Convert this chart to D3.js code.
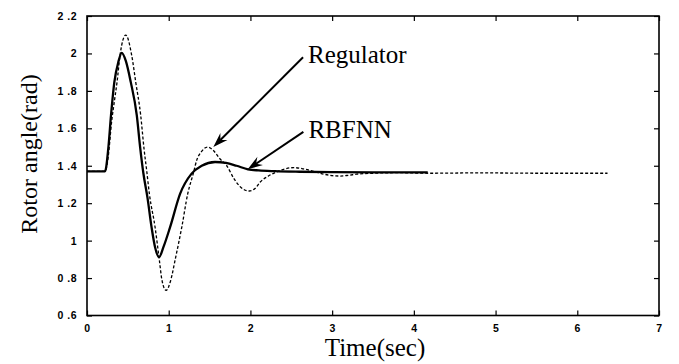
<!DOCTYPE html>
<html>
<head>
<meta charset="utf-8">
<script src="https://cdn.jsdelivr.net/npm/d3@7/dist/d3.min.js"></script>
<style>
  html, body { margin: 0; padding: 0; background: #fff; }
  svg { display: block; }
  .tick text { font-family: "Liberation Sans", Arial, sans-serif; font-weight: bold; font-size: 10.5px; letter-spacing: 0.5px; fill: #000; }
  .tick line { stroke: #000; stroke-width: 1.2; }
  .domain { display: none; }
  .title { font-family: "Liberation Serif", "Times New Roman", serif; fill: #000; }
</style>
</head>
<body>
<svg id="chart" width="679" height="364"></svg>
<script>
// Rotor angle response after a disturbance: regulator vs RBFNN controller
const xTicks = [0, 1, 2, 3, 4, 5, 6, 7];
const yTicks = [0.6, 0.8, 1.0, 1.2, 1.4, 1.6, 1.8, 2.0, 2.2];

const rbfTime  = [0, 0.22, 0.26, 0.294, 0.335, 0.384, 0.425, 0.475, 0.535, 0.609, 0.65, 0.69, 0.74, 0.79, 0.833, 0.882, 0.935, 1.017, 1.14, 1.28, 1.404, 1.567, 1.70, 1.83, 1.97, 2.1, 2.3, 2.6, 3.0, 3.5, 4.17];
const rbfAngle = [1.37, 1.37, 1.49, 1.67, 1.848, 1.955, 2.003, 1.96, 1.848, 1.67, 1.50, 1.36, 1.23, 1.072, 0.965, 0.912, 0.965, 1.072, 1.251, 1.358, 1.40, 1.42, 1.415, 1.40, 1.381, 1.375, 1.371, 1.368, 1.366, 1.365, 1.365];

const regTime  = [0, 0.22, 0.26, 0.30, 0.34, 0.368, 0.404, 0.474, 0.547, 0.596, 0.657, 0.698, 0.73, 0.763, 0.833, 0.886, 0.918, 0.968, 1.024, 1.077, 1.16, 1.233, 1.30, 1.343, 1.40, 1.475, 1.55, 1.62, 1.71, 1.80, 1.87, 1.985, 2.06, 2.12, 2.22, 2.32, 2.42, 2.53, 2.65, 2.77, 2.9, 3.0, 3.1, 3.2, 3.3, 3.5, 3.8, 4.2, 4.8, 5.5, 6.37];
const regAngle = [1.37, 1.37, 1.45, 1.63, 1.76, 1.848, 1.99, 2.098, 1.99, 1.848, 1.67, 1.49, 1.376, 1.251, 1.072, 0.894, 0.787, 0.734, 0.787, 0.894, 1.072, 1.251, 1.358, 1.43, 1.475, 1.50, 1.48, 1.44, 1.40, 1.33, 1.29, 1.265, 1.28, 1.313, 1.345, 1.367, 1.383, 1.39, 1.383, 1.37, 1.355, 1.347, 1.345, 1.349, 1.355, 1.36, 1.363, 1.36, 1.362, 1.36, 1.36];

// Annotations: label, arrow tail (t, angle) and arrow tip (t, angle)
const notes = [
  { label: "Regulator", tail: [2.644, 1.98], tip: [1.546, 1.50] },
  { label: "RBFNN",     tail: [2.648, 1.581], tip: [1.967, 1.381] }
];

const svg = d3.select("#chart");
const x = d3.scaleLinear().domain([0, 7]).range([87, 659]);
const y = d3.scaleLinear().domain([0.6, 2.2]).range([315.5, 16]);

const fmt = v => d3.format("~g")(v).replace(".", " .");

// Axes with inward ticks on all four sides
svg.append("g").attr("transform", `translate(0,${y(0.6)})`)
  .call(d3.axisBottom(x).tickValues(xTicks).tickSize(-5).tickSizeOuter(0).tickPadding(9).tickFormat(d3.format("d")));
svg.append("g").attr("transform", `translate(0,${y(2.2)})`)
  .call(d3.axisTop(x).tickValues(xTicks).tickSize(-5).tickSizeOuter(0).tickFormat(""));
svg.append("g").attr("transform", `translate(${x(0)},0)`)
  .call(d3.axisLeft(y).tickValues(yTicks).tickSize(-5).tickSizeOuter(0).tickPadding(10).tickFormat(fmt));
svg.append("g").attr("transform", `translate(${x(7)},0)`)
  .call(d3.axisRight(y).tickValues(yTicks).tickSize(-5).tickSizeOuter(0).tickFormat(""));

// Plot frame
svg.append("rect")
  .attr("x", x(0)).attr("y", y(2.2))
  .attr("width", x(7) - x(0)).attr("height", y(0.6) - y(2.2))
  .attr("fill", "none").attr("stroke", "#000").attr("stroke-width", 1.6);

const line = d3.line().x(d => x(d[0])).y(d => y(d[1])).curve(d3.curveMonotoneX);

svg.append("path")
  .datum(d3.zip(regTime, regAngle))
  .attr("d", line)
  .attr("fill", "none").attr("stroke", "#000")
  .attr("stroke-width", 1.3).attr("stroke-dasharray", "3,2");

svg.append("path")
  .datum(d3.zip(rbfTime, rbfAngle))
  .attr("d", line)
  .attr("fill", "none").attr("stroke", "#000")
  .attr("stroke-width", 2.3).attr("stroke-linejoin", "round");

// Arrow annotations
notes.forEach(n => {
  const x0 = x(n.tail[0]), y0 = y(n.tail[1]);
  const x1 = x(n.tip[0]), y1 = y(n.tip[1]);
  const ang = Math.atan2(y1 - y0, x1 - x0);
  const len = 15, half = 5, notch = 10;
  const ca = Math.cos(ang), sa = Math.sin(ang);
  const bx = x1 - len * ca, by = y1 - len * sa;
  const nx = x1 - notch * ca, ny = y1 - notch * sa;
  svg.append("line")
    .attr("x1", x0).attr("y1", y0).attr("x2", nx).attr("y2", ny)
    .attr("stroke", "#000").attr("stroke-width", 2);
  svg.append("path")
    .attr("d", `M${x1},${y1}L${bx + half * sa},${by - half * ca}L${nx},${ny}L${bx - half * sa},${by + half * ca}Z`)
    .attr("fill", "#000");
  svg.append("text").attr("class", "title")
    .attr("x", x0 + 5).attr("y", y0 + 6)
    .attr("font-size", 25)
    .text(n.label);
});

// Axis titles
svg.append("text").attr("class", "title")
  .attr("x", 375).attr("y", 356)
  .attr("text-anchor", "middle").attr("font-size", 25)
  .text("Time(sec)");

svg.append("text").attr("class", "title")
  .attr("transform", "translate(37,154) rotate(-90)")
  .attr("text-anchor", "middle").attr("font-size", 24)
  .text("Rotor angle(rad)");
</script>
</body>
</html>
